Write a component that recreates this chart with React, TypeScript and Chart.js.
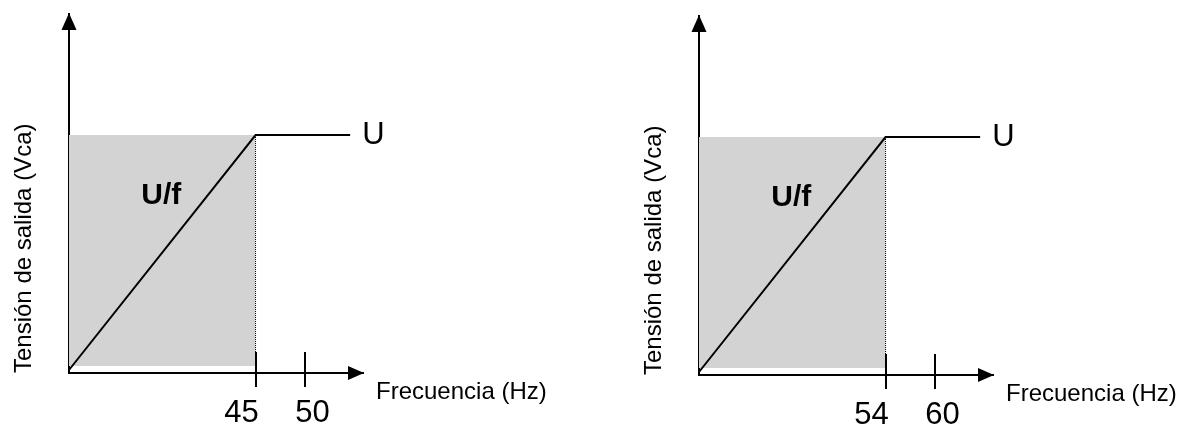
import React, { useEffect, useRef } from "react";
import { Chart, registerables } from "chart.js";

Chart.register(...registerables);

const FONT = "'Liberation Sans', Arial, Helvetica, sans-serif";

// Texts
const xAxisTitle = "Frecuencia (Hz)";
const yAxisTitle = "Tensión de salida (Vca)";
const slopeLabel = "U/f";
const levelLabel = "U";
const leftTickLabels = ["45", "50"];
const rightTickLabels = ["54", "60"];

// Schematic values (knee frequency = 1, rated voltage = 1)
const tickPositions = [1, 1.265];
const tickLabelPositions = [0.925, 1.305];
const curveX = [0, 1, 1.507];
const curveY = [0, 1, 1];
const shadeX = [0, 1];
const shadeTop = [1, 1];
const shadeBottom = 0.017;
const guideX = [1, 1];
const guideY = [1, 0.077];
const slopeLabelAt = [0.495, 0.742];
const xRange = [0, 1.576];
const yRange = [-0.0128, 1.515];

function makeDecor(tickLabels: string[]) {
  return {
    id: "decor",
    afterDraw(chart: any) {
      const { ctx, chartArea: a, scales } = chart;
      const x = scales.x;
      const y = scales.y;
      ctx.save();
      ctx.fillStyle = "#000";
      ctx.strokeStyle = "#000";
      // y arrow head
      ctx.beginPath();
      ctx.moveTo(a.left, a.top - 1);
      ctx.lineTo(a.left - 7.5, a.top + 16);
      ctx.lineTo(a.left + 7.5, a.top + 16);
      ctx.closePath();
      ctx.fill();
      // x arrow head
      ctx.beginPath();
      ctx.moveTo(a.right + 1, a.bottom);
      ctx.lineTo(a.right - 15, a.bottom - 7);
      ctx.lineTo(a.right - 15, a.bottom + 7);
      ctx.closePath();
      ctx.fill();
      // tick marks crossing the axis
      ctx.lineWidth = 2;
      tickPositions.forEach((v) => {
        const px = Math.round(x.getPixelForValue(v));
        ctx.beginPath();
        ctx.moveTo(px, a.bottom - 21);
        ctx.lineTo(px, a.bottom + 14);
        ctx.stroke();
      });
      // tick labels
      ctx.font = `31px ${FONT}`;
      ctx.textAlign = "center";
      ctx.textBaseline = "alphabetic";
      tickLabels.forEach((t, i) => {
        ctx.fillText(t, x.getPixelForValue(tickLabelPositions[i]), a.bottom + 49);
      });
      // x axis title
      ctx.font = `24px ${FONT}`;
      ctx.textAlign = "left";
      ctx.fillText(xAxisTitle, a.right + 13, a.bottom + 26);
      // level label
      ctx.font = `31px ${FONT}`;
      ctx.textBaseline = "middle";
      ctx.fillText(
        levelLabel,
        x.getPixelForValue(curveX[curveX.length - 1]) + 12,
        y.getPixelForValue(curveY[curveY.length - 1])
      );
      // slope label
      ctx.font = `bold 30px ${FONT}`;
      ctx.textAlign = "center";
      ctx.fillText(slopeLabel, x.getPixelForValue(slopeLabelAt[0]), y.getPixelForValue(slopeLabelAt[1]));
      ctx.restore();
    },
  };
}

function Panel({ tickLabels, width }: { tickLabels: string[]; width: number }) {
  const ref = useRef<HTMLCanvasElement | null>(null);
  useEffect(() => {
    if (!ref.current) return;
    const chart = new Chart(ref.current, {
      type: "line",
      data: {
        datasets: [
          {
            data: curveX.map((v, i) => ({ x: v, y: curveY[i] })),
            borderColor: "#000",
            borderWidth: 2,
            pointRadius: 0,
            fill: false,
            tension: 0,
          },
          {
            data: guideX.map((v, i) => ({ x: v, y: guideY[i] })),
            borderColor: "#000",
            borderWidth: 1,
            borderDash: [1, 1],
            pointRadius: 0,
            fill: false,
          },
          {
            data: shadeX.map((v, i) => ({ x: v, y: shadeTop[i] })),
            borderColor: "rgba(0,0,0,0)",
            borderWidth: 0,
            pointRadius: 0,
            backgroundColor: "#d3d3d3",
            fill: { value: shadeBottom },
          },
        ],
      },
      options: {
        responsive: false,
        animation: false,
        devicePixelRatio: 1,
        events: [],
        layout: { padding: { left: 0, top: 14, right: width - 363, bottom: 0 } },
        plugins: {
          legend: { display: false },
          tooltip: { enabled: false },
        },
        scales: {
          x: {
            type: "linear",
            min: xRange[0],
            max: xRange[1],
            grid: { display: false },
            ticks: { display: false },
            border: { display: true, color: "#000", width: 2 },
            afterFit: (s: any) => {
              s.height = 52;
            },
          },
          y: {
            type: "linear",
            min: yRange[0],
            max: yRange[1],
            grid: { display: false },
            ticks: { display: false },
            border: { display: true, color: "#000", width: 2 },
            title: {
              display: true,
              text: yAxisTitle,
              align: "start",
              color: "#000",
              font: { family: FONT, size: 24 },
              padding: { top: 10, bottom: 0 },
            },
            afterFit: (s: any) => {
              s.width = 69;
            },
          },
        },
      },
      plugins: [makeDecor(tickLabels)],
    } as any);
    return () => chart.destroy();
  }, []);
  return (
    <canvas
      ref={ref}
      width={width}
      height={425}
      style={{ display: "block", width: width, height: 425 }}
    />
  );
}

export default function App() {
  return (
    <div
      style={{
        position: "fixed",
        left: 0,
        top: 0,
        width: 1179,
        height: 425,
        overflow: "hidden",
        background: "#fff",
      }}
    >
      <div style={{ position: "absolute", left: 0, top: 0 }}>
        <Panel tickLabels={leftTickLabels} width={590} />
      </div>
      <div style={{ position: "absolute", left: 630, top: 2 }}>
        <Panel tickLabels={rightTickLabels} width={549} />
      </div>
    </div>
  );
}
